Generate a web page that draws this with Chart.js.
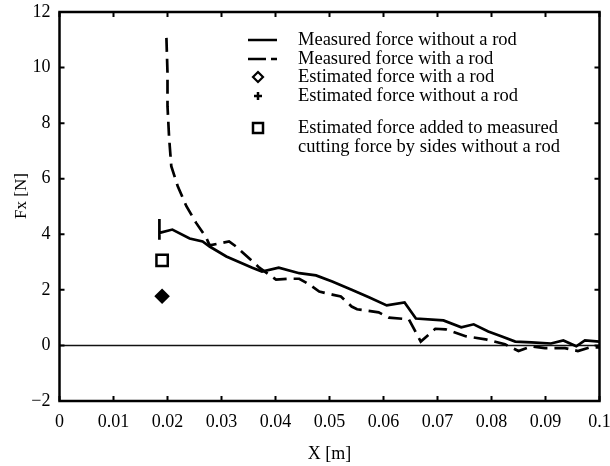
<!DOCTYPE html>
<html>
<head>
<meta charset="utf-8">
<script src="https://cdn.jsdelivr.net/npm/chart.js@4"></script>
<style>
html,body{margin:0;padding:0;background:#fff;}
#wrap{width:610px;height:466px;position:relative;}
</style>
</head>
<body>
<div id="wrap"><canvas id="c" width="610" height="466"></canvas></div>
<script>
// ---- data ----
const solidX = [0.0185,0.0185,0.0185,0.0209,0.0241,0.0265,0.0278,0.0309,0.0357,0.0375,0.0406,0.0444,0.0475,0.0505,0.0541,0.0573,0.0606,0.0639,0.0660,0.0711,0.0744,0.0767,0.0794,0.0818,0.0844,0.0874,0.0910,0.0933,0.0957,0.0973,0.1000];
const solidY = [4.55,3.8,4.05,4.17,3.85,3.74,3.56,3.2,2.8,2.66,2.8,2.6,2.52,2.3,2.0,1.73,1.44,1.55,0.97,0.9,0.65,0.76,0.5,0.33,0.14,0.11,0.07,0.18,-0.03,0.18,0.14];
const dashedX = [0.0198,0.0200,0.0200,0.0203,0.0207,0.0219,0.0235,0.0253,0.0272,0.0278,0.0314,0.0327,0.0370,0.0401,0.0425,0.0444,0.0462,0.0481,0.0505,0.0521,0.0541,0.0551,0.0591,0.0610,0.0647,0.0669,0.0696,0.0715,0.0752,0.0789,0.0825,0.0850,0.0874,0.0899,0.0936,0.0960,0.0982,0.1000];
const dashedY = [11.07,9.81,8.61,7.47,6.45,5.73,5.01,4.41,3.87,3.6,3.74,3.56,2.8,2.37,2.4,2.4,2.2,1.94,1.83,1.76,1.4,1.3,1.19,1.0,0.94,0.14,0.6,0.58,0.33,0.22,0.04,-0.2,-0.03,-0.1,-0.1,-0.2,-0.07,-0.07];
const estWithRod = [{x:0.019, y:1.77}];
const estWithoutRod = [{x:0.019, y:1.77}];
const estAdded = [{x:0.019, y:3.06}];
const xTicks = [0,0.01,0.02,0.03,0.04,0.05,0.06,0.07,0.08,0.09,0.1];
const yTicks = [-2,0,2,4,6,8,10,12];
const legendLabels = [
  "Measured force without a rod",
  "Measured force with a rod",
  "Estimated force with a rod",
  "Estimated force without a rod",
  "Estimated force added to measured",
  "cutting force by sides without a rod"
];
const xTitle = "X [m]";
const yTitle = "Fx [N]";

const FONT = "'Liberation Serif', 'Times New Roman', serif";
const pts = (xs, ys) => xs.map((x, i) => ({x, y: ys[i]}));

const framePlugin = {
  id: 'frame',
  beforeDraw(chart) {
    const ctx = chart.ctx;
    ctx.save();
    ctx.fillStyle = '#fff';
    ctx.fillRect(0, 0, chart.width, chart.height);
    ctx.restore();
  },
  beforeDatasetsDraw(chart) {
    const {ctx, chartArea: a, scales: {x, y}} = chart;
    ctx.save();
    ctx.strokeStyle = '#111';
    ctx.lineWidth = 1.4;
    const y0 = y.getPixelForValue(0);
    ctx.beginPath(); ctx.moveTo(a.left, y0); ctx.lineTo(a.right, y0); ctx.stroke();
    ctx.restore();
  },
  afterDatasetsDraw(chart) {
    const {ctx, chartArea: a, scales: {x, y}} = chart;
    ctx.save();
    ctx.strokeStyle = '#000';
    ctx.lineWidth = 2.5;
    ctx.strokeRect(a.left, a.top, a.right - a.left, a.bottom - a.top);
    ctx.lineWidth = 2;
    const tl = 5;
    ctx.beginPath();
    xTicks.forEach(v => {
      const px = x.getPixelForValue(v);
      ctx.moveTo(px, a.bottom); ctx.lineTo(px, a.bottom - tl);
      ctx.moveTo(px, a.top); ctx.lineTo(px, a.top + tl);
    });
    yTicks.forEach(v => {
      const py = y.getPixelForValue(v);
      ctx.moveTo(a.left, py); ctx.lineTo(a.left + tl, py);
      ctx.moveTo(a.right, py); ctx.lineTo(a.right - tl, py);
    });
    ctx.stroke();

    // y axis title
    ctx.save();
    ctx.fillStyle = '#000';
    ctx.font = "17px " + FONT;
    ctx.textAlign = 'center';
    ctx.textBaseline = 'middle';
    ctx.translate(22, 196);
    ctx.rotate(-Math.PI / 2);
    ctx.fillText(yTitle, 0, 0);
    ctx.restore();

    // legend
    ctx.fillStyle = '#000';
    ctx.strokeStyle = '#000';
    ctx.font = "18.5px " + FONT;
    ctx.textBaseline = 'middle';
    ctx.textAlign = 'left';
    const tx = 298, sx0 = 248, sx1 = 277, sc = 258;
    const rows = [40, 59, 77, 96, 128, 147];
    legendLabels.forEach((t, i) => ctx.fillText(t, tx, rows[i]));
    ctx.lineWidth = 2.5;
    ctx.beginPath(); ctx.moveTo(sx0, rows[0]); ctx.lineTo(sx1, rows[0]); ctx.stroke();
    ctx.beginPath(); ctx.moveTo(sx0, rows[1]); ctx.lineTo(sx0 + 18, rows[1]);
    ctx.moveTo(sx0 + 23, rows[1]); ctx.lineTo(sx1, rows[1]); ctx.stroke();
    // diamond
    ctx.lineWidth = 2.2;
    ctx.beginPath();
    ctx.moveTo(sc, rows[2] - 5); ctx.lineTo(sc + 5, rows[2]); ctx.lineTo(sc, rows[2] + 5); ctx.lineTo(sc - 5, rows[2]); ctx.closePath();
    ctx.stroke();
    // plus
    ctx.lineWidth = 2.5;
    ctx.beginPath();
    ctx.moveTo(sc - 4, rows[3]); ctx.lineTo(sc + 4, rows[3]);
    ctx.moveTo(sc, rows[3] - 4); ctx.lineTo(sc, rows[3] + 4);
    ctx.stroke();
    // square
    ctx.lineWidth = 2.5;
    ctx.strokeRect(sc - 5, rows[4] - 5, 10, 10);
    ctx.restore();
  }
};

new Chart(document.getElementById('c'), {
  type: 'scatter',
  data: {
    datasets: [
      { label: legendLabels[0], data: pts(solidX, solidY), showLine: true, borderColor: '#000', borderWidth: 2.7, pointRadius: 0, tension: 0 },
      { label: legendLabels[1], data: pts(dashedX, dashedY), showLine: true, borderColor: '#000', borderWidth: 2.7, borderDash: [14, 7], pointRadius: 0, tension: 0 },
      { label: legendLabels[2], data: estWithRod, pointStyle: 'rectRot', pointRadius: 6, borderWidth: 2.5, borderColor: '#000', backgroundColor: '#000' },
      { label: legendLabels[3], data: estWithoutRod, pointStyle: 'cross', pointRadius: 5, borderWidth: 3, borderColor: '#000' },
      { label: legendLabels[4], data: estAdded, pointStyle: 'rect', pointRadius: 8, borderWidth: 2.5, borderColor: '#000', backgroundColor: '#fff' }
    ]
  },
  options: {
    responsive: false,
    animation: false,
    layout: { padding: { left: 12, right: 9, top: 12, bottom: 1 } },
    plugins: { legend: { display: false }, tooltip: { enabled: false } },
    scales: {
      x: {
        type: 'linear', min: 0, max: 0.1,
        afterBuildTicks: s => { s.ticks = xTicks.map(v => ({value: v})); },
        afterFit: s => { s.paddingRight = 0; s.paddingLeft = 0; s.height = 64; },
        grid: { display: false, drawTicks: false },
        border: { display: false },
        ticks: { color: '#000', font: { family: FONT, size: 18 }, padding: 10, maxRotation: 0, autoSkip: false,
          callback: v => String(+v.toFixed(2)) },
        title: { display: true, text: xTitle, color: '#000', font: { family: FONT, size: 18 }, padding: { top: 4, bottom: 0 } }
      },
      y: {
        type: 'linear', min: -2, max: 12,
        afterBuildTicks: s => { s.ticks = yTicks.map(v => ({value: v})); },
        afterFit: s => { s.width = 47.5; s.paddingTop = 0; s.paddingBottom = 0; },
        grid: { display: false, drawTicks: false },
        border: { display: false },
        ticks: { color: '#000', font: { family: FONT, size: 18 }, padding: 9,
          callback: v => String(v).replace('-', '\u2212') },
        title: { display: false, text: yTitle }
      }
    }
  },
  plugins: [framePlugin]
});
</script>
</body>
</html>
